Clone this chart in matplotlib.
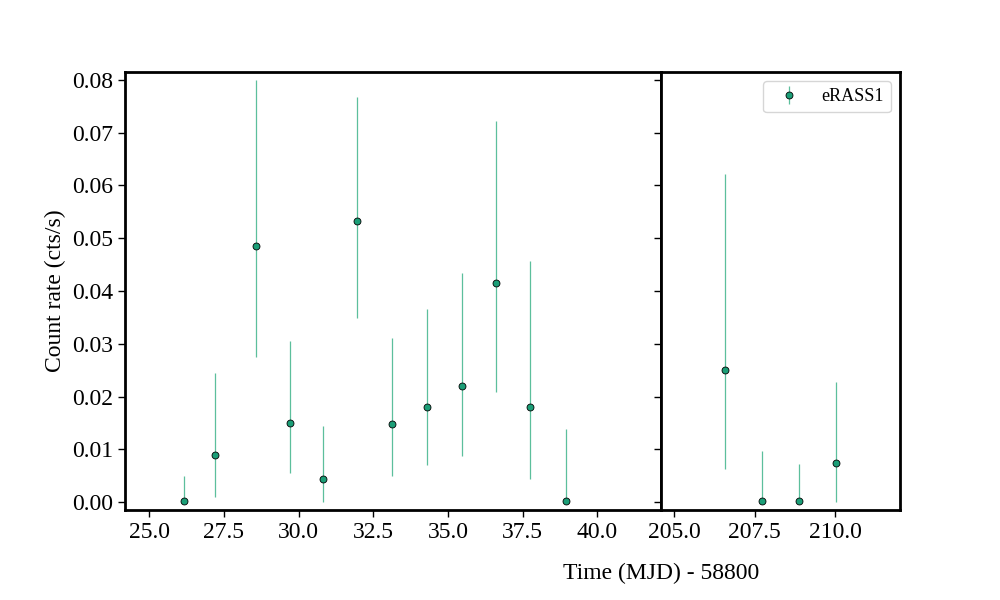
import numpy as np
import matplotlib
matplotlib.use('Agg')
import matplotlib.pyplot as plt

plt.rcParams['font.family'] = ['Liberation Serif', 'DejaVu Serif']
plt.rcParams['mathtext.fontset'] = 'stix'

# eRASS1 light curve, time in MJD - 58800
t1 = [26.18, 27.19, 28.56, 29.72, 30.82, 31.97, 33.13, 34.29, 35.46, 36.62, 37.75, 38.94]
r1 = [0.0003, 0.0090, 0.0485, 0.0150, 0.0043, 0.0533, 0.0148, 0.0180, 0.0220, 0.0415, 0.0181, 0.0003]
lo1 = [0.0, 0.0010, 0.0275, 0.0055, 0.0, 0.0348, 0.0050, 0.0070, 0.0087, 0.0208, 0.0043, 0.0]
hi1 = [0.0050, 0.0245, 0.0800, 0.0305, 0.0145, 0.0767, 0.0310, 0.0365, 0.0435, 0.0722, 0.0457, 0.0138]

t2 = [206.59, 207.74, 208.89, 210.04]
r2 = [0.0250, 0.0003, 0.0003, 0.0075]
lo2 = [0.0062, 0.0, 0.0, 0.0]
hi2 = [0.0622, 0.0097, 0.0073, 0.0227]

col = '#1b9e77'

fig = plt.figure(figsize=(10, 6), dpi=100)
ax1 = fig.add_axes([0.125, 0.15, 0.536, 0.73])
ax2 = fig.add_axes([0.661, 0.15, 0.239, 0.73], sharey=ax1)

def draw(ax, t, r, lo, hi, lab=None):
    r = np.array(r)
    yerr = [r - np.array(lo), np.array(hi) - r]
    ax.errorbar(t, r, yerr=yerr, fmt='o', ms=5, mfc=col, mec='k', mew=0.6,
                ecolor='#5cbf9c', elinewidth=0.9, label=lab)

draw(ax1, t1, r1, lo1, hi1)
draw(ax2, t2, r2, lo2, hi2, 'eRASS1')

ax1.set_xlim(24.19, 42.13)
ax2.set_xlim(204.59, 212.02)
ax1.set_ylim(-0.0015, 0.0815)
ax1.set_xticks([25.0, 27.5, 30.0, 32.5, 35.0, 37.5, 40.0])
ax2.set_xticks([205.0, 207.5, 210.0])
ax1.set_yticks(np.arange(0, 0.081, 0.01))
ax1.yaxis.set_major_formatter(matplotlib.ticker.FormatStrFormatter('%.2f'))
ax1.xaxis.set_major_formatter(matplotlib.ticker.FormatStrFormatter('%.1f'))
ax2.xaxis.set_major_formatter(matplotlib.ticker.FormatStrFormatter('%.1f'))

for ax in (ax1, ax2):
    for sp in ax.spines.values():
        sp.set_linewidth(2)
    ax.tick_params(labelsize=17, length=5, width=1)
ax1.tick_params(axis='y', which='both', right=True, direction='out')
ax2.tick_params(axis='y', left=False, labelleft=False)
# right spine ticks of left panel point inward
for tk in ax1.yaxis.get_major_ticks():
    tk.tick2line.set_marker(0)

ax1.set_ylabel('Count rate (cts/s)', fontsize=17)
fig.text(0.661, 0.035, 'Time (MJD) - 58800', ha='center', fontsize=17)
ax2.legend(loc='upper right', fontsize=13)

fig.savefig('out.png', dpi=100)
